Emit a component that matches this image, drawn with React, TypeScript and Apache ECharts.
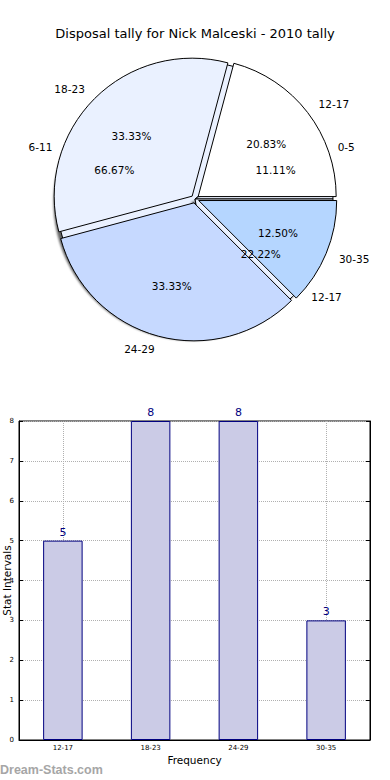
import React, { useEffect, useRef } from 'react';
import * as echarts from 'echarts';

// Pie (front): main tally intervals
const pieCategories = ['12-17', '18-23', '24-29', '30-35'];
const pieValues = [5, 8, 8, 3];
const pieColors = ['#ffffff', '#eaf1ff', '#c6d9ff', '#b5d6ff'];

// Pie (behind): second set of intervals
const underCategories = ['0-5', '6-11', '12-17'];
const underValues = [1, 6, 2];

// Bar chart
const barCategories = ['12-17', '18-23', '24-29', '30-35'];
const barValues = [5, 8, 8, 3];

const FONT = 'DejaVu Sans';
const R = 138;
const CENTER = [195, 199];

export default function App() {
  const ref = useRef<HTMLDivElement>(null);

  useEffect(() => {
    if (!ref.current) return;
    const chart = echarts.init(ref.current, null, { renderer: 'svg' });

    const sum = (a: number[]) => a.reduce((s, v) => s + v, 0);
    const pieTotal = sum(pieValues);
    const underTotal = sum(underValues);

    const outerLabel = {
      show: true,
      position: 'outside',
      formatter: '{b}',
      fontSize: 10.5,
      color: '#000',
      fontFamily: FONT,
      distanceToLabelLine: 0,
    };
    const outerLine = { show: false, length: 0.1 * R, length2: 0 };
    const pctLabel = (total: number) => ({
      show: true,
      position: 'inside',
      formatter: (p: any) => ((p.value / total) * 100).toFixed(2) + '%',
      fontSize: 10.5,
      color: '#000',
      fontFamily: FONT,
    });

    const option: any = {
      animation: false,
      title: {
        text: 'Disposal tally for Nick Malceski - 2010 tally',
        left: 'center',
        top: 22,
        textStyle: { fontSize: 13, fontWeight: 'normal', fontFamily: FONT, color: '#000' },
      },
      graphic: [
        {
          type: 'text',
          left: 0,
          top: 763,
          style: {
            text: 'Dream-Stats.com',
            fontSize: 12.5,
            fontWeight: 'bold',
            fontFamily: 'Liberation Sans',
            fill: '#a6a6a6',
          },
        },
      ],
      grid: {
        left: 19,
        right: 20,
        top: 421,
        bottom: 40,
        containLabel: false,
        outerBoundsMode: 'none',
        show: true,
        borderColor: '#000',
        borderWidth: 1,
        backgroundColor: 'transparent',
      },
      xAxis: [
        {
          type: 'category',
          data: barCategories,
          name: 'Frequency',
          nameLocation: 'middle',
          nameGap: 14,
          nameMoveOverlap: false,
          nameTextStyle: { fontSize: 10.5, color: '#000', fontFamily: FONT },
          axisLine: { show: true, lineStyle: { color: '#000', width: 1 } },
          axisTick: { show: true, alignWithLabel: true, inside: true, length: 4, lineStyle: { color: '#000' } },
          axisLabel: { fontSize: 7, color: '#000', margin: 4, fontFamily: FONT },
          splitLine: { show: true, alignWithLabel: true, lineStyle: { type: 'dotted', color: '#b0b0b0', width: 1 } },
        },
      ],
      yAxis: [
        {
          type: 'value',
          min: 0,
          max: 8,
          interval: 1,
          name: 'Stat Intervals',
          nameLocation: 'middle',
          nameGap: 7,
          nameMoveOverlap: false,
          nameRotate: 90,
          nameTextStyle: { fontSize: 10.5, color: '#000', fontFamily: FONT },
          axisLine: { show: true, lineStyle: { color: '#000', width: 1 } },
          axisTick: { show: true, inside: true, length: 4, lineStyle: { color: '#000' } },
          axisLabel: { fontSize: 7, color: '#000', margin: 5, fontFamily: FONT },
          splitLine: { show: true, lineStyle: { type: 'dotted', color: '#b0b0b0', width: 1 } },
        },
        {
          type: 'value',
          position: 'right',
          min: 0,
          max: 8,
          interval: 1,
          axisLine: { show: true, lineStyle: { color: '#000', width: 1 } },
          axisTick: { show: true, inside: true, length: 4, lineStyle: { color: '#000' } },
          axisLabel: { show: false },
          splitLine: { show: false },
        },
      ],
      series: [
        {
          type: 'pie',
          name: 'under',
          center: CENTER,
          radius: R,
          startAngle: 0,
          clockwise: false,
          silent: true,
          avoidLabelOverlap: false,
          data: underCategories.map((n, i) => ({ name: n, value: underValues[i] })),
          itemStyle: {
            color: '#eaf1ff',
            borderColor: '#000',
            borderWidth: 1,
            shadowColor: 'rgba(0,0,0,0.6)',
            shadowBlur: 2,
            shadowOffsetX: -3,
            shadowOffsetY: 3,
          },
          label: outerLabel,
          labelLine: outerLine,
          emphasis: { disabled: true },
        },
        {
          type: 'pie',
          name: 'main',
          center: CENTER,
          radius: R,
          startAngle: 0,
          clockwise: false,
          silent: true,
          avoidLabelOverlap: false,
          selectedMode: 'multiple',
          selectedOffset: 4,
          data: pieCategories.map((n, i) => ({
            name: n,
            value: pieValues[i],
            selected: true,
            itemStyle: { color: pieColors[i] },
            select: { itemStyle: { color: pieColors[i], borderColor: '#000', borderWidth: 1 } },
          })),
          itemStyle: { borderColor: '#000', borderWidth: 1 },
          label: outerLabel,
          labelLine: outerLine,
          emphasis: { disabled: true },
        },
        {
          type: 'pie',
          name: 'mainPct',
          center: CENTER,
          radius: [0.2 * R, R],
          startAngle: 0,
          clockwise: false,
          silent: true,
          avoidLabelOverlap: false,
          selectedMode: 'multiple',
          selectedOffset: 4,
          data: pieCategories.map((n, i) => ({ name: n, value: pieValues[i], selected: true })),
          itemStyle: { color: 'rgba(0,0,0,0)', borderWidth: 0 },
          select: { itemStyle: { color: 'rgba(0,0,0,0)', borderWidth: 0 } },
          label: pctLabel(pieTotal),
          labelLine: { show: false },
          emphasis: { disabled: true },
        },
        {
          type: 'pie',
          name: 'underPct',
          center: CENTER,
          radius: [0.2 * R, R],
          startAngle: 0,
          clockwise: false,
          silent: true,
          avoidLabelOverlap: false,
          data: underCategories.map((n, i) => ({ name: n, value: underValues[i] })),
          itemStyle: { color: 'rgba(0,0,0,0)', borderWidth: 0 },
          label: pctLabel(underTotal),
          labelLine: { show: false },
          emphasis: { disabled: true },
        },
        {
          type: 'bar',
          xAxisIndex: 0,
          yAxisIndex: 0,
          data: barValues,
          barWidth: '45%',
          itemStyle: { color: '#cbcbe6', borderColor: '#000080', borderWidth: 1 },
          label: {
            show: true,
            position: 'top',
            distance: 3,
            color: '#000080',
            fontSize: 11,
            fontFamily: FONT,
          },
          emphasis: { disabled: true },
        },
      ],
    };

    chart.setOption(option);
    return () => chart.dispose();
  }, []);

  return (
    <div
      ref={ref}
      style={{ position: 'fixed', left: 0, top: 0, width: 390, height: 780, background: '#fff' }}
    />
  );
}
